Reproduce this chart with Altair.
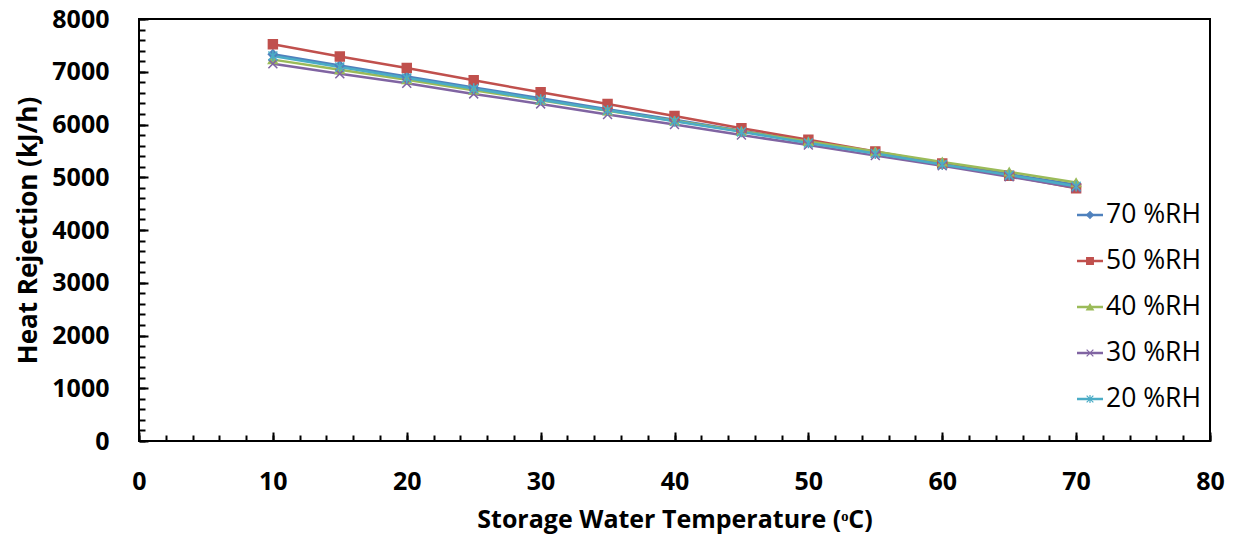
import altair as alt
import pandas as pd

temps = [10, 15, 20, 25, 30, 35, 40, 45, 50, 55, 60, 65, 70]
series = ["70 %RH", "50 %RH", "40 %RH", "30 %RH", "20 %RH"]
rh70 = [7330, 7120, 6910, 6700, 6500, 6290, 6090, 5880, 5680, 5470, 5270, 5060, 4860]
rh50 = [7520, 7290, 7070, 6840, 6610, 6390, 6160, 5930, 5710, 5490, 5260, 5030, 4790]
rh40 = [7230, 7040, 6850, 6650, 6460, 6260, 6070, 5870, 5680, 5490, 5290, 5100, 4900]
rh30 = [7150, 6960, 6780, 6580, 6390, 6190, 6000, 5800, 5610, 5410, 5220, 5010, 4800]
rh20 = [7300, 7090, 6880, 6680, 6470, 6270, 6060, 5860, 5650, 5450, 5240, 5040, 4830]
x_ticks = list(range(0, 81, 10))
y_ticks = list(range(0, 8001, 1000))

colors = ["#4F81BD", "#C0504D", "#9BBB59", "#8064A2", "#4BACC6"]
shapes = ["diamond", "square", "triangle-up",
          "M-1,-1L1,1M-1,1L1,-1",
          "M-1,-1L1,1M-1,1L1,-1M0,-1.2L0,1.2"]
fills = colors[:3] + ["transparent", "transparent"]

rows = []
for s, vals in zip(series, [rh70, rh50, rh40, rh30, rh20]):
    for t, v in zip(temps, vals):
        rows.append({"series": s, "temp": t, "heat": v})
df = pd.DataFrame(rows)

W, H = 1071, 422
FONT = "Open Sans"

xs = alt.Scale(domain=[0, 80], nice=False, zero=False)
ys = alt.Scale(domain=[0, 8000], nice=False)
color = alt.Color("series:N", scale=alt.Scale(domain=series, range=colors), legend=None)
stroke = alt.Stroke("series:N", scale=alt.Scale(domain=series, range=colors), legend=None)
shape = alt.Shape("series:N", scale=alt.Scale(domain=series, range=shapes), legend=None)
fill = alt.Fill("series:N", scale=alt.Scale(domain=series, range=fills), legend=None)

base = alt.Chart(df)

lines = base.mark_line(strokeWidth=2.5).encode(
    x=alt.X("temp:Q", scale=xs, axis=alt.Axis(
        values=x_ticks, format="d", ticks=False, tickSize=0, domain=False, grid=False,
        labelFlush=False, labelFont=FONT, labelFontSize=25, labelFontWeight="bold",
        labelColor="black", labelPadding=28,
        title="Storage Water Temperature (ᵒC)", titleFont=FONT,
        titleFontSize=25, titleFontWeight="bold", titleColor="black", titlePadding=13)),
    y=alt.Y("heat:Q", scale=ys, axis=alt.Axis(
        values=y_ticks, format="d", ticks=False, tickSize=0, domain=False, grid=False,
        labelFlush=False, labelFont=FONT, labelFontSize=25, labelFontWeight="bold",
        labelColor="black", labelPadding=30,
        title="Heat Rejection (kJ/h)", titleFont=FONT,
        titleFontSize=26, titleFontWeight="bold", titleColor="black", titlePadding=10)),
    color=color,
)

points = base.mark_point(filled=True, size=80, strokeWidth=1.5, opacity=1).encode(
    x=alt.X("temp:Q", scale=xs, axis=None),
    y=alt.Y("heat:Q", scale=ys, axis=None),
    shape=shape, fill=fill, stroke=stroke,
)


def tick_layer(axis_ch, values, size):
    if axis_ch == "x":
        xa = alt.Axis(orient="top", offset=-H, values=values, labels=False, domain=False,
                      grid=False, ticks=True, tickSize=size, tickWidth=2, tickColor="black", title=None)
        ya = None
    else:
        ya = alt.Axis(orient="right", offset=-W, values=values, labels=False, domain=False,
                      grid=False, ticks=True, tickSize=size, tickWidth=2, tickColor="black", title=None)
        xa = None
    return base.mark_point(opacity=0).encode(
        x=alt.X("temp:Q", scale=xs, axis=xa),
        y=alt.Y("heat:Q", scale=ys, axis=ya),
    )


x_major = tick_layer("x", x_ticks, 9)
x_minor = tick_layer("x", list(range(0, 81, 2)), 6)
y_major = tick_layer("y", y_ticks, 9)
y_minor = tick_layer("y", list(range(0, 8001, 200)), 6)

leg_df = pd.DataFrame({"series": series})
ly = alt.Y("series:N", sort=series,
           scale=alt.Scale(type="point", domain=series, range=[196, 380], padding=0), axis=None)
leg = alt.Chart(leg_df)
leg_rule = leg.mark_rule(strokeWidth=2.5).encode(
    y=ly, x=alt.value(938), x2=alt.value(964), color=color)
leg_pt = leg.mark_point(filled=True, size=45, strokeWidth=1.2, opacity=1).encode(
    y=ly, x=alt.value(951), shape=shape, fill=fill, stroke=stroke)
leg_txt = leg.mark_text(align="left", baseline="middle", font=FONT, fontSize=26.5, color="black").encode(
    y=ly, x=alt.value(967), text="series:N")

chart = alt.layer(
    lines, points, x_major, x_minor, y_major, y_minor, leg_rule, leg_pt, leg_txt
).resolve_scale(
    x="independent", y="independent"
).properties(
    width=W, height=H,
    autosize=alt.AutoSizeParams(type="none"),
    padding={"left": 131, "top": 11, "right": 20, "bottom": 100},
    background="white",
).configure_view(stroke="black", strokeWidth=2)

chart.save("out.html", embed_options={"renderer": "svg", "actions": False})
